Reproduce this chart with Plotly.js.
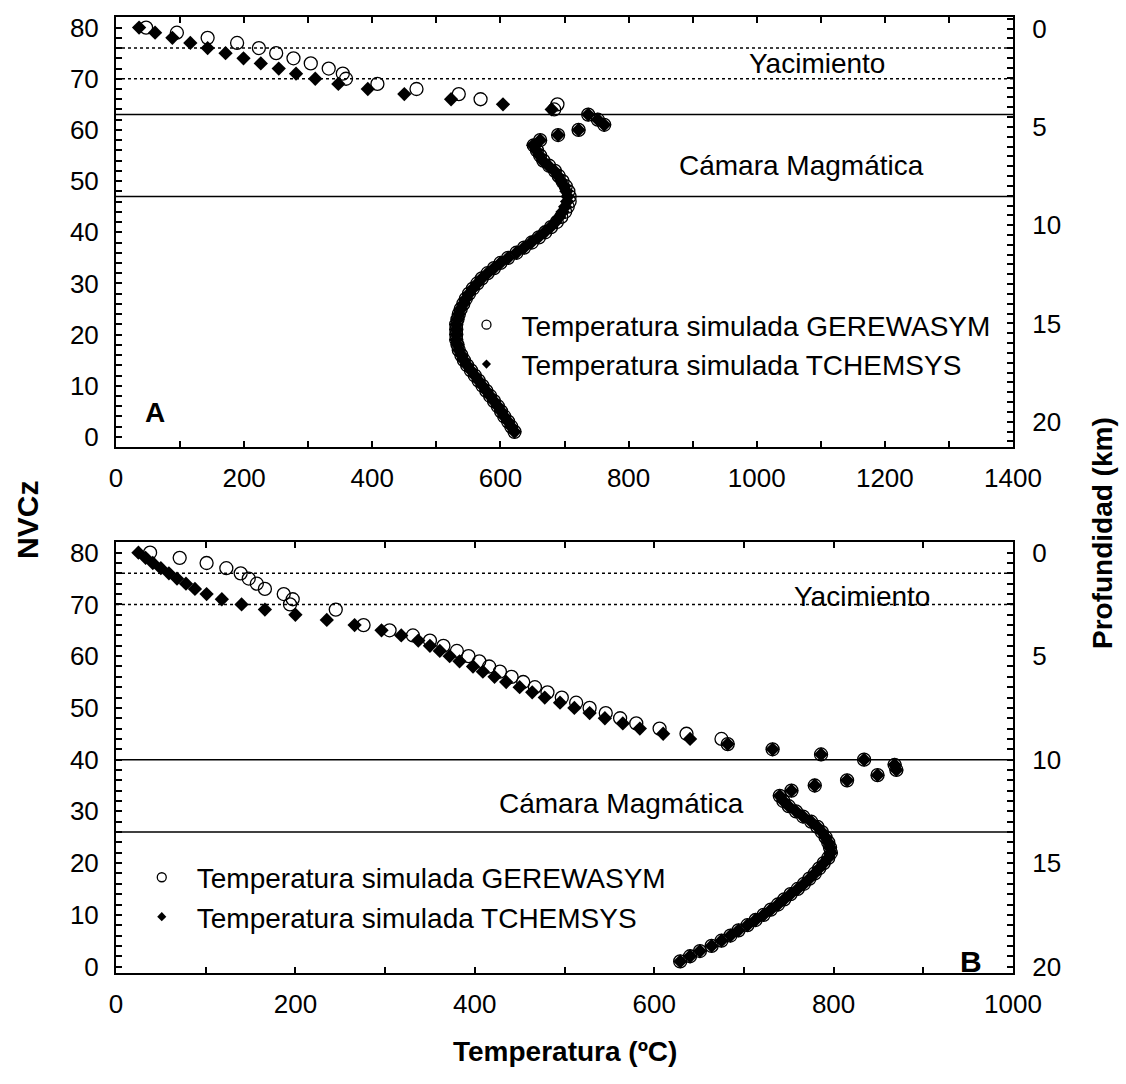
<!DOCTYPE html>
<html>
<head>
<meta charset="utf-8">
<script src="https://cdn.plot.ly/plotly-3.0.1.min.js"></script>
<style>html,body{margin:0;padding:0;background:#fff;}#chart{width:1126px;height:1084px;}</style>
</head>
<body>
<div id="chart"></div>
<script>
// ---------- Panel A (top) ----------
const topGereN = [80,79,78,77,76,75,74,73,72,71,70,69,68,67,66,65,64,63,62,61,60,59,58];
const topGereT = [47,95,143,189,223,250,277,304,332,354,359,408,469,535,569,689,684,737,752,762,722,690,662];
const topTchemN = [80,79,78,77,76,75,74,73,72,71,70,69,68,67,66,65,64,63,62,61,60,59,58];
const topTchemT = [36,61,88,116,143,171,199,226,254,281,311,347,393,450,523,604,680,737,752,762,722,690,662];
// thick overlapping part (both simulations)
const topCurveN = [57,56,55,54,53,52,51,50,49,48,47,46,45,44,43,42,41,40,39,38,37,36,35,34,33,32,31,30,29,28,27,26,25,24,23,22,21,20,19,18,17,16,15,14,13,12,11,10,9,8,7,6,5,4,3,2,1];
const topCurveGereT = [652,657,662,667,676,685,691,697,702,706,708,708,705,701,695,688,679,670,660,649,637,625,612,600,590,580,571,564,557,551,546,542,538,535,533,531,531,531,531,533,535,539,543,548,554,560,566,572,578,584,590,596,601,606,612,617,622];
const topCurveTchemT = [651,656,661,666,675,684,690,695,700,703,705,704,701,697,692,686,678,669,659,648,637,625,612,600,590,580,571,564,557,551,546,542,538,535,533,531,531,531,531,533,535,539,543,548,554,560,566,572,578,584,590,596,601,606,612,617,622];
const topDotted = [76, 70];
const topSolid = [63, 47];

// ---------- Panel B (bottom) ----------
const botGereN = [80,79,78,77,76,75,74,73,72,71,70,69,66,65,64,63,62,61,60,59,58,57,56,55,54,53,52,51,50,49,48,47,46,45,44,43,42,41,40,39,38,37,36,35,34,33];
const botGereT = [38,71,101,123,139,148,157,166,187,197,194,245,276,305,331,350,365,380,393,405,416,428,441,454,467,481,497,513,528,546,562,580,606,636,675,682,732,786,834,868,870,849,815,779,753,740];
const botTchemN = [80,79,78,77,76,75,74,73,72,71,70,69,68,67,66,65,64,63,62,61,60,59,58,57,56,55,54,53,52,51,50,49,48,47,46,45,44,43,42,41,40,39,38,37,36,35,34,33];
const botTchemT = [25,33,41,50,59,68,78,88,101,118,140,166,200,235,266,296,318,337,350,361,372,383,398,409,422,435,450,464,478,495,511,528,545,565,584,610,640,682,732,786,834,868,870,849,815,779,753,740];
const botCurveN = [32,31,30,29,28,27,26,25,24,23,22,21,20,19,18,17,16,15,14,13,12,11,10,9,8,7,6,5,4,3,2,1];
const botCurveT = [744,750,758,766,775,782,787,791,794,796,797,794,789,784,779,773,767,760,752,745,738,730,722,713,704,694,685,675,664,651,640,629];
const botDotted = [76, 70];
const botSolid = [40, 26];

const seriesNames = ['Temperatura simulada GEREWASYM', 'Temperatura simulada TCHEMSYS'];
const xTicksTop = [0,200,400,600,800,1000,1200,1400];
const xTicksBot = [0,200,400,600,800,1000];
const depthTicks = [0,5,10,15,20];

const FONT = 'Arial, "Liberation Sans", sans-serif';

const circleMarker = {symbol:'circle-open', size:13, color:'black', line:{color:'black', width:1.3}};
const diamondMarker = {symbol:'diamond', size:11, color:'black', line:{width:0}};

const traces = [
  {x: topGereT.concat(topCurveGereT), y: topGereN.concat(topCurveN), xaxis:'x', yaxis:'y', mode:'markers', marker:circleMarker, showlegend:false, hoverinfo:'skip'},
  {x: topTchemT.concat(topCurveTchemT), y: topTchemN.concat(topCurveN), xaxis:'x', yaxis:'y', mode:'markers', marker:diamondMarker, showlegend:false, hoverinfo:'skip'},
  {x: botGereT.concat(botCurveT), y: botGereN.concat(botCurveN), xaxis:'x2', yaxis:'y2', mode:'markers', marker:circleMarker, showlegend:false, hoverinfo:'skip'},
  {x: botTchemT.concat(botCurveT), y: botTchemN.concat(botCurveN), xaxis:'x2', yaxis:'y2', mode:'markers', marker:diamondMarker, showlegend:false, hoverinfo:'skip'},
  // empty traces that attach the depth (right) axes
  {x:[null], y:[null], xaxis:'x', yaxis:'y3', mode:'markers', showlegend:false, hoverinfo:'skip'},
  {x:[null], y:[null], xaxis:'x2', yaxis:'y4', mode:'markers', showlegend:false, hoverinfo:'skip'},
  // legend entries
  {x:[null], y:[null], xaxis:'x', yaxis:'y', mode:'markers', name:seriesNames[0], marker:{symbol:'circle-open', size:9, color:'black', line:{color:'black', width:1.3}}, legend:'legend', legendgroup:'a1'},
  {x:[null], y:[null], xaxis:'x', yaxis:'y', mode:'markers', name:seriesNames[1], marker:{symbol:'diamond', size:7, color:'black'}, legend:'legend', legendgroup:'a2'},
  {x:[null], y:[null], xaxis:'x2', yaxis:'y2', mode:'markers', name:seriesNames[0], marker:{symbol:'circle-open', size:9, color:'black', line:{color:'black', width:1.3}}, legend:'legend2', legendgroup:'b1'},
  {x:[null], y:[null], xaxis:'x2', yaxis:'y2', mode:'markers', name:seriesNames[1], marker:{symbol:'diamond', size:7, color:'black'}, legend:'legend2', legendgroup:'b2'}
];

function xAxis(range, ticks, anchor){
  return {
    range: range, autorange:false, anchor: anchor,
    tickvals: ticks, ticktext: ticks.map(String),
    ticks:'inside', ticklen:6, tickwidth:2, tickcolor:'black',
    minor:{dtick:100, tick0:0, ticks:'inside', ticklen:6, tickwidth:2, tickcolor:'black'},
    showline:true, linewidth:2, linecolor:'black', mirror:'ticks',
    showgrid:false, zeroline:false,
    tickfont:{family:FONT, size:26, color:'black'}, ticklabelstandoff:7
  };
}
function yLeft(range, domain, anchor){
  return {
    range: range, autorange:false, domain: domain, anchor: anchor,
    tick0:0, dtick:10, ticks:'inside', ticklen:6, tickwidth:2, tickcolor:'black',
    minor:{dtick:2, tick0:0, ticks:'inside', ticklen:6, tickwidth:2, tickcolor:'black'},
    showline:true, linewidth:2, linecolor:'black', mirror:false,
    showgrid:false, zeroline:false,
    tickfont:{family:FONT, size:26, color:'black'}, ticklabelstandoff:10
  };
}
function yRight(range, over, anchor){
  return {
    range: range, autorange:false, overlaying: over, side:'right', anchor: anchor,
    tickvals: depthTicks, ticktext: depthTicks.map(String),
    ticks:'inside', ticklen:6, tickwidth:2, tickcolor:'black',
    minor:{dtick:0.5, tick0:0, ticks:'inside', ticklen:6, tickwidth:2, tickcolor:'black'},
    showline:true, linewidth:2, linecolor:'black',
    showgrid:false, zeroline:false,
    tickfont:{family:FONT, size:26, color:'black'}, ticklabelstandoff:12
  };
}

const shapes = [];
function hline(v, yref, dash){
  shapes.push({type:'line', xref:'paper', x0:0, x1:1, yref:yref, y0:v, y1:v,
    line:{color:'black', width:1.5, dash:dash}, layer:'below'});
}
topDotted.forEach(v => hline(v, 'y', 'dot'));
topSolid.forEach(v => hline(v, 'y', 'solid'));
botDotted.forEach(v => hline(v, 'y2', 'dot'));
botSolid.forEach(v => hline(v, 'y2', 'solid'));

const ann = (text, x, y, xref, yref, opts) => Object.assign({text:text, x:x, y:y, xref:xref, yref:yref, showarrow:false,
  xanchor:'center', yanchor:'middle',
  font:{family:FONT, size:28, color:'black'}}, opts || {});

const annotations = [
  ann('Yacimiento', 1094, 73, 'x', 'y'),
  ann('Cámara Magmática', 875, 53.1, 'x', 'y', {xanchor:'left'}),
  ann('<b>A</b>', 61, 4.7, 'x', 'y'),
  ann('Yacimiento', 832, 71.6, 'x2', 'y2'),
  ann('Cámara Magmática', 425, 31.6, 'x2', 'y2', {xanchor:'left'}),
  ann('<b>B</b>', 953, 0.9, 'x2', 'y2', {font:{family:FONT, size:30, color:'black'}}),
  ann('<b>NVCz</b>', -0.098, 0.474, 'paper', 'paper', {textangle:-90, font:{family:FONT, size:30, color:'black'}}),
  ann('<b>Profundidad (km)</b>', 1.099, 0.46, 'paper', 'paper', {textangle:-90, font:{family:FONT, size:28, color:'black'}}),
  ann('<b>Temperatura (ºC)</b>', 0.5, -0.082, 'paper', 'paper', {font:{family:FONT, size:28, color:'black'}})
];

const layout = {
  width:1126, height:1084,
  margin:{l:116, r:113, t:17, b:111},
  paper_bgcolor:'white', plot_bgcolor:'white',
  font:{family:FONT, color:'black'},
  xaxis: xAxis([0,1400], xTicksTop, 'y'),
  xaxis2: xAxis([0,1000], xTicksBot, 'y2'),
  yaxis: yLeft([-1.91, 82.07], [0.5505, 1], 'x'),
  yaxis2: yLeft([-1.24, 82.0], [0, 0.4505], 'x2'),
  yaxis3: yRight([21.27, -0.59], 'y', 'x'),
  yaxis4: yRight([20.31, -0.5], 'y2', 'x2'),
  shapes: shapes,
  annotations: annotations,
  legend:{x:0.374, y:0.704, xanchor:'left', yanchor:'top', bgcolor:'rgba(0,0,0,0)', font:{family:FONT, size:28, color:'black'}, itemwidth:60, traceorder:'grouped', tracegroupgap:0},
  legend2:{x:0.012, y:0.126, xanchor:'left', yanchor:'top', bgcolor:'rgba(0,0,0,0)', font:{family:FONT, size:28, color:'black'}, itemwidth:60, traceorder:'grouped', tracegroupgap:0},
  showlegend:true
};

Plotly.newPlot('chart', traces, layout, {displayModeBar:false, staticPlot:true});
</script>
</body>
</html>
